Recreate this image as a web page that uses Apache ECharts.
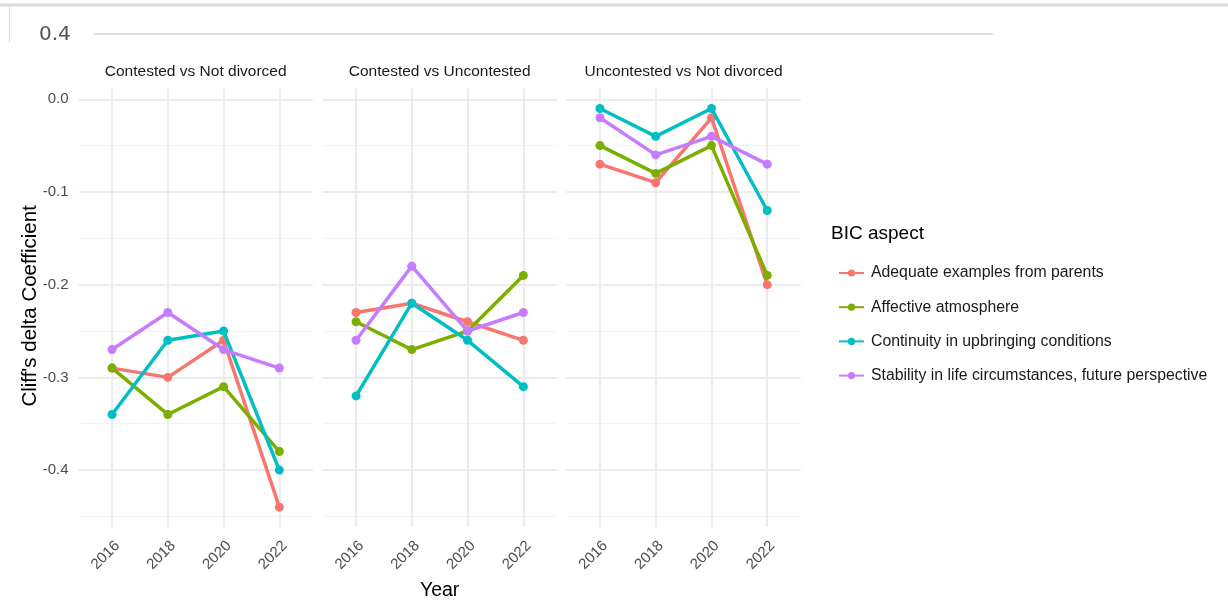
<!DOCTYPE html>
<html>
<head>
<meta charset="utf-8">
<script src="https://cdn.jsdelivr.net/npm/echarts/dist/echarts.min.js"></script>
<style>
html,body{margin:0;padding:0;background:#fff;}
#chart{width:1228px;height:610px;}
</style>
</head>
<body>
<div id="chart"></div>
<script>
// ---- data ----
const years = [2016, 2018, 2020, 2022];
const panels = ["Contested vs Not divorced", "Contested vs Uncontested", "Uncontested vs Not divorced"];
const aspects = [
  "Adequate examples from parents",
  "Affective atmosphere",
  "Continuity in upbringing conditions",
  "Stability in life circumstances, future perspective"
];
const colors = ["#F8766D", "#7CAE00", "#00BFC4", "#C77CFF"];
// values per panel (in panel order), per year
const adequateExamples = [
  [-0.29, -0.30, -0.26, -0.44],
  [-0.23, -0.22, -0.24, -0.26],
  [-0.07, -0.09, -0.02, -0.20]
];
const affectiveAtmosphere = [
  [-0.29, -0.34, -0.31, -0.38],
  [-0.24, -0.27, -0.25, -0.19],
  [-0.05, -0.08, -0.05, -0.19]
];
const continuityUpbringing = [
  [-0.34, -0.26, -0.25, -0.40],
  [-0.32, -0.22, -0.26, -0.31],
  [-0.01, -0.04, -0.01, -0.12]
];
const stabilityLife = [
  [-0.27, -0.23, -0.27, -0.29],
  [-0.26, -0.18, -0.25, -0.23],
  [-0.02, -0.06, -0.04, -0.07]
];
const yMajorTicks = [0, -0.1, -0.2, -0.3, -0.4];
const yMinorTicks = [-0.05, -0.15, -0.25, -0.35, -0.45];
const yMin = -0.4615, yMax = 0.0115;
const xMin = 2014.8, xMax = 2023.2;

// ---- layout ----
const gridLefts = [78.6, 322.6, 566.5];
const gridWidth = 234.2;
const gridTop = 88.6;
const gridHeight = 438.5;
const FONT = "'Liberation Sans', Arial, sans-serif";

const allSeries = [adequateExamples, affectiveAtmosphere, continuityUpbringing, stabilityLife];

const grids = [], xAxes = [], yAxes = [], series = [], graphics = [];
panels.forEach((p, i) => {
  grids.push({left: gridLefts[i], top: gridTop, width: gridWidth, height: gridHeight, containLabel: false});
  xAxes.push({
    gridIndex: i, type: 'value', min: xMin, max: xMax,
    axisLine: {show: false}, axisTick: {show: false, customValues: years},
    axisLabel: {customValues: years, rotate: 45, fontSize: 15, color: '#4d4d4d', fontFamily: FONT, margin: 11,
      verticalAlign: 'top', formatter: v => String(v)},
    splitLine: {show: true, lineStyle: {color: '#ebebeb', width: 2}}
  });
  yAxes.push({
    gridIndex: i, type: 'value', min: yMin, max: yMax,
    axisLine: {show: false}, axisTick: {show: false, customValues: yMajorTicks},
    axisLabel: {show: i === 0, customValues: yMajorTicks, fontSize: 15, color: '#4d4d4d', fontFamily: FONT, margin: 10,
      formatter: v => v.toFixed(1)},
    splitLine: {show: true, lineStyle: {color: '#ebebeb', width: 2}}
  });
  yAxes.push({
    gridIndex: i, type: 'value', min: yMin, max: yMax, position: 'left',
    axisLine: {show: false}, axisTick: {show: false, customValues: yMinorTicks},
    axisLabel: {show: false, customValues: yMinorTicks},
    splitLine: {show: true, lineStyle: {color: '#f3f3f3', width: 1}}
  });
  aspects.forEach((a, k) => {
    series.push({
      name: a, type: 'line', xAxisIndex: i, yAxisIndex: 2 * i,
      data: years.map((y, j) => [y, allSeries[k][i][j]]),
      symbol: 'circle', symbolSize: 9, showSymbol: true,
      lineStyle: {width: 3.5, color: colors[k]},
      itemStyle: {color: colors[k]},
      emphasis: {disabled: true}, animation: false, z: 2 + k
    });
  });
  graphics.push({
    type: 'text', x: gridLefts[i] + gridWidth / 2, y: 72,
    style: {text: p, fill: '#1a1a1a', font: `15.5px ${FONT}`, textAlign: 'center', textVerticalAlign: 'middle'}
  });
});

// axis titles, legend title
graphics.push({type: 'text', x: 30, y: gridTop + gridHeight / 2 - 2, rotation: Math.PI / 2,
  style: {text: "Cliff's delta Coefficient", fill: '#000', font: `20.5px ${FONT}`, textAlign: 'center', textVerticalAlign: 'middle'}});
graphics.push({type: 'text', x: (gridLefts[0] + gridLefts[2] + gridWidth) / 2, y: 591,
  style: {text: 'Year', fill: '#000', font: `19.5px ${FONT}`, textAlign: 'center', textVerticalAlign: 'middle'}});
graphics.push({type: 'text', x: 831, y: 234,
  style: {text: 'BIC aspect', fill: '#000', font: `19px ${FONT}`, textAlign: 'left', textVerticalAlign: 'middle'}});
// top page fragment (cut-off element above chart)
graphics.push({type: 'line', shape: {x1: 0, y1: 5, x2: 1228, y2: 5}, style: {stroke: '#dcdcdc', lineWidth: 3}});
graphics.push({type: 'line', shape: {x1: 9.5, y1: 6, x2: 9.5, y2: 42}, style: {stroke: '#dcdcdc', lineWidth: 1}});
graphics.push({type: 'line', shape: {x1: 94, y1: 34, x2: 993, y2: 34}, style: {stroke: '#e0e0e0', lineWidth: 2}});
graphics.push({type: 'text', x: 39, y: 35,
  style: {text: '0.4', fill: '#555', font: `20px 'DejaVu Sans', ${FONT}`, textAlign: 'left', textVerticalAlign: 'middle'}});

const chart = echarts.init(document.getElementById('chart'), null, {renderer: 'canvas'});
chart.setOption({
  animation: false,
  backgroundColor: '#fff',
  grid: grids, xAxis: xAxes, yAxis: yAxes, series: series,
  legend: {
    data: aspects, orient: 'vertical', left: 833, top: 260,
    itemWidth: 25, itemHeight: 9, itemGap: 18.2,
    textStyle: {fontSize: 15.8, color: '#1a1a1a', fontFamily: FONT, padding: [0, 0, 0, 2]},
    selectedMode: false
  },
  graphic: graphics
});
</script>
</body>
</html>
